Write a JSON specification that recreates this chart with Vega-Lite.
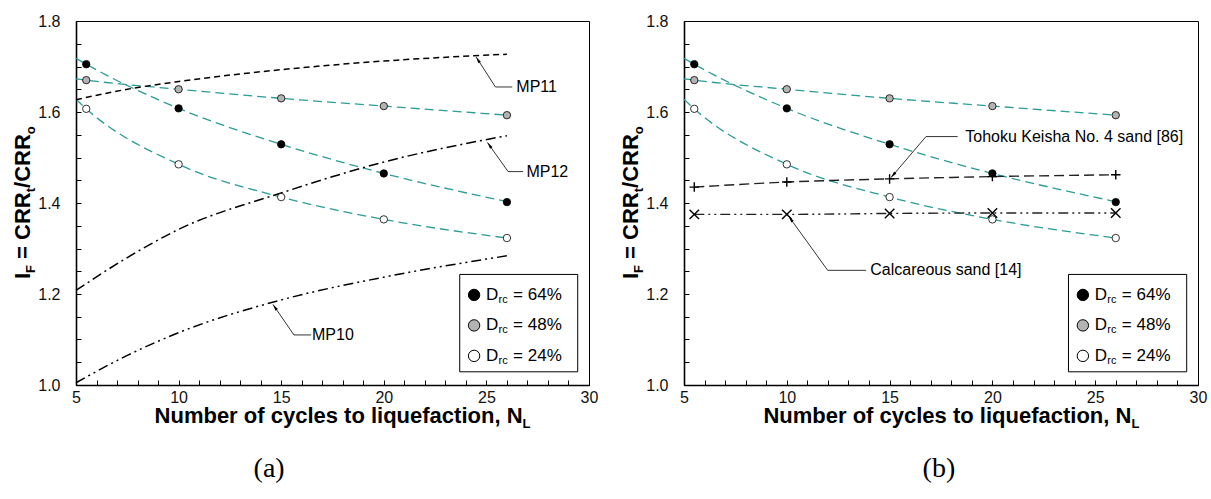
{
  "$schema": "https://vega.github.io/schema/vega-lite/v6.json",
  "background": "white",
  "padding": {"left": 11, "top": 12, "right": 5, "bottom": 5},
  "bounds": "flush",
  "spacing": 95,
  "config": {
    "view": {"stroke": "black", "strokeWidth": 1},
    "axis": {"grid": false, "domainColor": "black", "domainWidth": 1.6, "tickColor": "black", "tickWidth": 1, "tickSize": -5, "labelFont": "Liberation Sans", "labelFontSize": 16, "labelColor": "#111111", "labelOverlap": false, "labelFlush": false},
    "axisX": {"labelPadding": 9},
    "axisY": {"labelPadding": 21},
    "text": {"font": "Liberation Sans", "color": "black"}
  },
  "datasets": {
    "pts": [
      {"N": 5.5, "IF": 1.705, "Drc": "64%"}, {"N": 10, "IF": 1.608, "Drc": "64%"}, {"N": 15, "IF": 1.529, "Drc": "64%"}, {"N": 20, "IF": 1.465, "Drc": "64%"}, {"N": 26, "IF": 1.402, "Drc": "64%"},
      {"N": 5.5, "IF": 1.670, "Drc": "48%"}, {"N": 10, "IF": 1.650, "Drc": "48%"}, {"N": 15, "IF": 1.630, "Drc": "48%"}, {"N": 20, "IF": 1.613, "Drc": "48%"}, {"N": 26, "IF": 1.593, "Drc": "48%"},
      {"N": 5.5, "IF": 1.607, "Drc": "24%"}, {"N": 10, "IF": 1.485, "Drc": "24%"}, {"N": 15, "IF": 1.413, "Drc": "24%"}, {"N": 20, "IF": 1.364, "Drc": "24%"}, {"N": 26, "IF": 1.323, "Drc": "24%"}
    ],
    "fits": [
      {"N": 5, "IF": 1.718, "Drc": "64%"}, {"N": 5.5, "IF": 1.705, "Drc": "64%"}, {"N": 10, "IF": 1.608, "Drc": "64%"}, {"N": 15, "IF": 1.529, "Drc": "64%"}, {"N": 20, "IF": 1.465, "Drc": "64%"}, {"N": 26, "IF": 1.403, "Drc": "64%"},
      {"N": 5, "IF": 1.673, "Drc": "48%"}, {"N": 5.5, "IF": 1.670, "Drc": "48%"}, {"N": 10, "IF": 1.650, "Drc": "48%"}, {"N": 15, "IF": 1.630, "Drc": "48%"}, {"N": 20, "IF": 1.613, "Drc": "48%"}, {"N": 26, "IF": 1.593, "Drc": "48%"},
      {"N": 5, "IF": 1.628, "Drc": "24%"}, {"N": 5.5, "IF": 1.607, "Drc": "24%"}, {"N": 10, "IF": 1.485, "Drc": "24%"}, {"N": 15, "IF": 1.413, "Drc": "24%"}, {"N": 20, "IF": 1.364, "Drc": "24%"}, {"N": 26, "IF": 1.323, "Drc": "24%"}
    ],
    "mp": [
      {"N": 5, "IF": 1.627, "model": "MP11"}, {"N": 7.5, "IF": 1.650, "model": "MP11"}, {"N": 10, "IF": 1.667, "model": "MP11"}, {"N": 15, "IF": 1.693, "model": "MP11"}, {"N": 20, "IF": 1.712, "model": "MP11"}, {"N": 26, "IF": 1.727, "model": "MP11"},
      {"N": 5, "IF": 1.208, "model": "MP12"}, {"N": 7.5, "IF": 1.280, "model": "MP12"}, {"N": 10, "IF": 1.342, "model": "MP12"}, {"N": 15, "IF": 1.422, "model": "MP12"}, {"N": 20, "IF": 1.490, "model": "MP12"}, {"N": 26, "IF": 1.548, "model": "MP12"},
      {"N": 5, "IF": 1.005, "model": "MP10"}, {"N": 7.5, "IF": 1.065, "model": "MP10"}, {"N": 10, "IF": 1.115, "model": "MP10"}, {"N": 15, "IF": 1.187, "model": "MP10"}, {"N": 20, "IF": 1.237, "model": "MP10"}, {"N": 26, "IF": 1.284, "model": "MP10"}
    ],
    "refs": [
      {"N": 5.5, "IF": 1.435, "model": "Tohoku"}, {"N": 10, "IF": 1.446, "model": "Tohoku"}, {"N": 15, "IF": 1.453, "model": "Tohoku"}, {"N": 20, "IF": 1.458, "model": "Tohoku"}, {"N": 26, "IF": 1.462, "model": "Tohoku"},
      {"N": 5.5, "IF": 1.375, "model": "Calcareous"}, {"N": 10, "IF": 1.375, "model": "Calcareous"}, {"N": 15, "IF": 1.377, "model": "Calcareous"}, {"N": 20, "IF": 1.378, "model": "Calcareous"}, {"N": 26, "IF": 1.378, "model": "Calcareous"}
    ],
    "leadA": [
      {"N": 24.5, "IF": 1.721, "N2": 25.44, "IF2": 1.655}, {"N": 25.44, "IF": 1.655, "N2": 26.26, "IF2": 1.655},
      {"N": 25.05, "IF": 1.533, "N2": 26.06, "IF2": 1.469}, {"N": 26.06, "IF": 1.469, "N2": 26.79, "IF2": 1.469},
      {"N": 14.6, "IF": 1.177, "N2": 15.62, "IF2": 1.110}, {"N": 15.62, "IF": 1.110, "N2": 16.46, "IF2": 1.110}
    ],
    "labA": [
      {"N": 26.46, "IF": 1.655, "t": "MP11"}, {"N": 26.95, "IF": 1.469, "t": "MP12"}, {"N": 16.5, "IF": 1.110, "t": "MP10"}
    ],
    "leadB": [
      {"N": 15.07, "IF": 1.456, "N2": 16.77, "IF2": 1.546}, {"N": 16.77, "IF": 1.546, "N2": 18.31, "IF2": 1.546},
      {"N": 10.09, "IF": 1.371, "N2": 11.99, "IF2": 1.252}, {"N": 11.99, "IF": 1.252, "N2": 13.85, "IF2": 1.252}
    ],
    "labB": [
      {"N": 18.68, "IF": 1.546, "t": "Tohoku Keisha No. 4 sand [86]"}, {"N": 14.06, "IF": 1.252, "t": "Calcareous sand [14]"}
    ],
    "legbox": [{"N": 23.7, "IF": 1.029, "N2": 29.45, "IF2": 1.243}],
    "leg": [
      {"N": 24.4, "IF": 1.198, "Drc": "64%", "lab": "= 64%"},
      {"N": 24.4, "IF": 1.131, "Drc": "48%", "lab": "= 48%"},
      {"N": 24.4, "IF": 1.064, "Drc": "24%", "lab": "= 24%"}
    ],
    "ytitle": [{"N": 2.756, "IF": 1.233}],
    "xtitle": [{"N": 26.76, "IF": 0.916}]
  },
  "hconcat": [
    {
      "width": 513, "height": 364,
      "encoding": {
        "x": {"field": "N", "type": "quantitative", "scale": {"domain": [5, 30], "nice": false, "zero": false}, "axis": {"title": null, "values": [5,6,7,8,9,10,11,12,13,14,15,16,17,18,19,20,21,22,23,24,25,26,27,28,29,30], "format": "d", "labelExpr": "datum.value % 5 === 0 ? datum.label : ''"}},
        "y": {"field": "IF", "type": "quantitative", "scale": {"domain": [1, 1.8], "nice": false, "zero": false}, "axis": {"title": null, "values": [1,1.05,1.1,1.15,1.2,1.25,1.3,1.35,1.4,1.45,1.5,1.55,1.6,1.65,1.7,1.75,1.8], "labelExpr": "abs(datum.value*5 - round(datum.value*5)) < 0.001 ? format(datum.value, '.1f') : ''"}}
      },
      "layer": [
        {"data": {"name": "fits"}, "mark": {"type": "line", "color": "#2a9d94", "strokeWidth": 1.3, "strokeDash": [9, 5], "interpolate": "monotone"}, "encoding": {"detail": {"field": "Drc"}}},
        {"data": {"name": "mp"}, "mark": {"type": "line", "color": "black", "strokeWidth": 1.5, "interpolate": "monotone"}, "encoding": {"strokeDash": {"field": "model", "type": "nominal", "scale": {"domain": ["MP10", "MP11", "MP12", "Tohoku", "Calcareous"], "range": [[10,4,2,4,2,4], [6,4], [10,4,2,4], [10,5], [10,4,2,4,2,4]]}, "legend": null}}},
        {"data": {"name": "pts"}, "mark": {"type": "point", "filled": true, "size": 55, "stroke": "black", "strokeWidth": 0.8, "opacity": 1}, "encoding": {"fill": {"field": "Drc", "type": "nominal", "scale": {"domain": ["64%", "48%", "24%"], "range": ["#000000", "#b3b3b3", "#ffffff"]}, "legend": null}}},
        {"data": {"name": "leadA"}, "mark": {"type": "rule", "color": "black", "strokeWidth": 0.8}, "encoding": {"x2": {"field": "N2"}, "y2": {"field": "IF2"}}},
        {"data": {"values": [{"N": 24.5, "IF": 1.721}]}, "mark": {"type": "point", "shape": "M0,0L0.5,2.2L-0.5,2.2Z", "filled": true, "color": "black", "opacity": 1, "size": 36, "angle": 328}},
        {"data": {"values": [{"N": 25.05, "IF": 1.533}]}, "mark": {"type": "point", "shape": "M0,0L0.5,2.2L-0.5,2.2Z", "filled": true, "color": "black", "opacity": 1, "size": 36, "angle": 324}},
        {"data": {"values": [{"N": 14.6, "IF": 1.177}]}, "mark": {"type": "point", "shape": "M0,0L0.5,2.2L-0.5,2.2Z", "filled": true, "color": "black", "opacity": 1, "size": 36, "angle": 326}},
        {"data": {"name": "labA"}, "mark": {"type": "text", "align": "left", "baseline": "middle", "fontSize": 16}, "encoding": {"text": {"field": "t"}}},
        {"data": {"name": "legbox"}, "mark": {"type": "rect", "fill": "white", "stroke": "black", "strokeWidth": 1}, "encoding": {"x2": {"field": "N2"}, "y2": {"field": "IF2"}}},
        {"data": {"name": "leg"}, "mark": {"type": "point", "filled": true, "size": 130, "stroke": "black", "strokeWidth": 1, "opacity": 1}, "encoding": {"fill": {"field": "Drc", "type": "nominal", "legend": null}}},
        {"data": {"name": "leg"}, "mark": {"type": "text", "align": "left", "baseline": "middle", "fontSize": 17, "dx": 12, "text": "D"}},
        {"data": {"name": "leg"}, "mark": {"type": "text", "align": "left", "baseline": "middle", "fontSize": 11, "dx": 24.5, "dy": 5, "text": "rc"}},
        {"data": {"name": "leg"}, "mark": {"type": "text", "align": "left", "baseline": "middle", "fontSize": 17, "dx": 39}, "encoding": {"text": {"field": "lab"}}},
        {"data": {"name": "ytitle"}, "mark": {"type": "text", "align": "left", "baseline": "alphabetic", "angle": 270, "fontSize": 22, "fontWeight": "bold", "text": "I"}},
        {"data": {"name": "ytitle"}, "mark": {"type": "text", "align": "left", "baseline": "alphabetic", "angle": 270, "fontSize": 13, "fontWeight": "bold", "dx": 6.1, "dy": 5, "text": "F"}},
        {"data": {"name": "ytitle"}, "mark": {"type": "text", "align": "left", "baseline": "alphabetic", "angle": 270, "fontSize": 22, "fontWeight": "bold", "dx": 20.1, "text": "= CRR"}},
        {"data": {"name": "ytitle"}, "mark": {"type": "text", "align": "left", "baseline": "alphabetic", "angle": 270, "fontSize": 13, "fontWeight": "bold", "dx": 86.7, "dy": 5, "text": "t"}},
        {"data": {"name": "ytitle"}, "mark": {"type": "text", "align": "left", "baseline": "alphabetic", "angle": 270, "fontSize": 22, "fontWeight": "bold", "dx": 91, "text": "/CRR"}},
        {"data": {"name": "ytitle"}, "mark": {"type": "text", "align": "left", "baseline": "alphabetic", "angle": 270, "fontSize": 13, "fontWeight": "bold", "dx": 144.8, "dy": 5, "text": "o"}},
        {"data": {"name": "xtitle"}, "mark": {"type": "text", "align": "right", "baseline": "alphabetic", "fontSize": 22, "fontWeight": "bold", "text": "Number of cycles to liquefaction, N"}},
        {"data": {"name": "xtitle"}, "mark": {"type": "text", "align": "left", "baseline": "alphabetic", "fontSize": 13, "fontWeight": "bold", "dy": 5, "text": "L"}},
        {"data": {"values": [{"N": 14.41, "IF": 0.798}]}, "mark": {"type": "text", "align": "center", "baseline": "alphabetic", "font": "Liberation Serif", "fontSize": 28, "text": "(a)"}}
      ]
    },
    {
      "width": 514, "height": 364,
      "encoding": {
        "x": {"field": "N", "type": "quantitative", "scale": {"domain": [5, 30], "nice": false, "zero": false}, "axis": {"title": null, "values": [5,6,7,8,9,10,11,12,13,14,15,16,17,18,19,20,21,22,23,24,25,26,27,28,29,30], "format": "d", "labelExpr": "datum.value % 5 === 0 ? datum.label : ''"}},
        "y": {"field": "IF", "type": "quantitative", "scale": {"domain": [1, 1.8], "nice": false, "zero": false}, "axis": {"title": null, "values": [1,1.05,1.1,1.15,1.2,1.25,1.3,1.35,1.4,1.45,1.5,1.55,1.6,1.65,1.7,1.75,1.8], "labelExpr": "abs(datum.value*5 - round(datum.value*5)) < 0.001 ? format(datum.value, '.1f') : ''"}}
      },
      "layer": [
        {"data": {"name": "fits"}, "mark": {"type": "line", "color": "#2a9d94", "strokeWidth": 1.3, "strokeDash": [9, 5], "interpolate": "monotone"}, "encoding": {"detail": {"field": "Drc"}}},
        {"data": {"name": "refs"}, "mark": {"type": "line", "color": "#222222", "strokeWidth": 1.4, "interpolate": "monotone"}, "encoding": {"strokeDash": {"field": "model", "type": "nominal", "scale": {"domain": ["MP10", "MP11", "MP12", "Tohoku", "Calcareous"], "range": [[10,4,2,4,2,4], [6,4], [10,4,2,4], [10,5], [10,4,2,4,2,4]]}, "legend": null}}},
        {"data": {"name": "refs"}, "mark": {"type": "point", "filled": false, "size": 90, "color": "black", "strokeWidth": 1.4, "opacity": 1}, "encoding": {"shape": {"field": "model", "type": "nominal", "scale": {"domain": ["Tohoku", "Calcareous"], "range": ["M-1,0L1,0M0,-1L0,1", "M-1,-1L1,1M-1,1L1,-1"]}, "legend": null}}},
        {"data": {"name": "pts"}, "mark": {"type": "point", "filled": true, "size": 55, "stroke": "black", "strokeWidth": 0.8, "opacity": 1}, "encoding": {"fill": {"field": "Drc", "type": "nominal", "scale": {"domain": ["64%", "48%", "24%"], "range": ["#000000", "#b3b3b3", "#ffffff"]}, "legend": null}}},
        {"data": {"name": "leadB"}, "mark": {"type": "rule", "color": "black", "strokeWidth": 0.8}, "encoding": {"x2": {"field": "N2"}, "y2": {"field": "IF2"}}},
        {"data": {"values": [{"N": 15.07, "IF": 1.456}]}, "mark": {"type": "point", "shape": "M0,0L0.5,2.2L-0.5,2.2Z", "filled": true, "color": "black", "opacity": 1, "size": 36, "angle": 220}},
        {"data": {"values": [{"N": 10.09, "IF": 1.371}]}, "mark": {"type": "point", "shape": "M0,0L0.5,2.2L-0.5,2.2Z", "filled": true, "color": "black", "opacity": 1, "size": 36, "angle": 324}},
        {"data": {"name": "labB"}, "mark": {"type": "text", "align": "left", "baseline": "middle", "fontSize": 16}, "encoding": {"text": {"field": "t"}}},
        {"data": {"name": "legbox"}, "mark": {"type": "rect", "fill": "white", "stroke": "black", "strokeWidth": 1}, "encoding": {"x2": {"field": "N2"}, "y2": {"field": "IF2"}}},
        {"data": {"name": "leg"}, "mark": {"type": "point", "filled": true, "size": 130, "stroke": "black", "strokeWidth": 1, "opacity": 1}, "encoding": {"fill": {"field": "Drc", "type": "nominal", "legend": null}}},
        {"data": {"name": "leg"}, "mark": {"type": "text", "align": "left", "baseline": "middle", "fontSize": 17, "dx": 12, "text": "D"}},
        {"data": {"name": "leg"}, "mark": {"type": "text", "align": "left", "baseline": "middle", "fontSize": 11, "dx": 24.5, "dy": 5, "text": "rc"}},
        {"data": {"name": "leg"}, "mark": {"type": "text", "align": "left", "baseline": "middle", "fontSize": 17, "dx": 39}, "encoding": {"text": {"field": "lab"}}},
        {"data": {"name": "ytitle"}, "mark": {"type": "text", "align": "left", "baseline": "alphabetic", "angle": 270, "fontSize": 22, "fontWeight": "bold", "text": "I"}},
        {"data": {"name": "ytitle"}, "mark": {"type": "text", "align": "left", "baseline": "alphabetic", "angle": 270, "fontSize": 13, "fontWeight": "bold", "dx": 6.1, "dy": 5, "text": "F"}},
        {"data": {"name": "ytitle"}, "mark": {"type": "text", "align": "left", "baseline": "alphabetic", "angle": 270, "fontSize": 22, "fontWeight": "bold", "dx": 20.1, "text": "= CRR"}},
        {"data": {"name": "ytitle"}, "mark": {"type": "text", "align": "left", "baseline": "alphabetic", "angle": 270, "fontSize": 13, "fontWeight": "bold", "dx": 86.7, "dy": 5, "text": "t"}},
        {"data": {"name": "ytitle"}, "mark": {"type": "text", "align": "left", "baseline": "alphabetic", "angle": 270, "fontSize": 22, "fontWeight": "bold", "dx": 91, "text": "/CRR"}},
        {"data": {"name": "ytitle"}, "mark": {"type": "text", "align": "left", "baseline": "alphabetic", "angle": 270, "fontSize": 13, "fontWeight": "bold", "dx": 144.8, "dy": 5, "text": "o"}},
        {"data": {"name": "xtitle"}, "mark": {"type": "text", "align": "right", "baseline": "alphabetic", "fontSize": 22, "fontWeight": "bold", "text": "Number of cycles to liquefaction, N"}},
        {"data": {"name": "xtitle"}, "mark": {"type": "text", "align": "left", "baseline": "alphabetic", "fontSize": 13, "fontWeight": "bold", "dy": 5, "text": "L"}},
        {"data": {"values": [{"N": 17.4, "IF": 0.798}]}, "mark": {"type": "text", "align": "center", "baseline": "alphabetic", "font": "Liberation Serif", "fontSize": 28, "text": "(b)"}}
      ]
    }
  ]
}
